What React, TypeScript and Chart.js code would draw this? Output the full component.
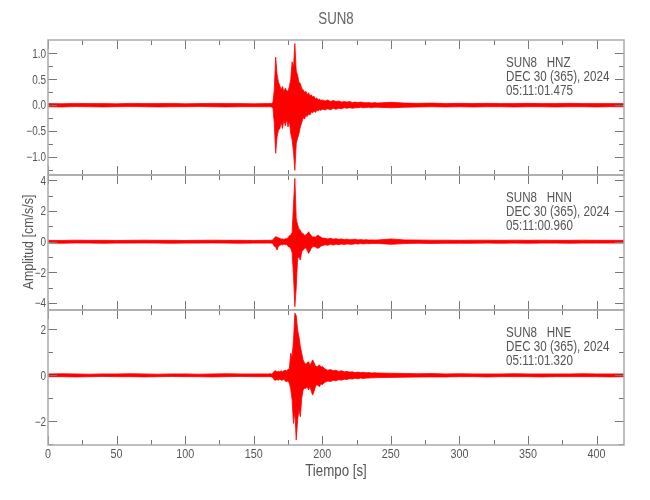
import React, { useEffect, useRef } from "react";
import { Chart, registerables } from "chart.js";

Chart.register(...registerables);

// ---- data ----
const times = [
  0, 10, 20, 30, 40, 50, 60, 70, 80, 90, 100, 110, 120, 130, 140, 150, 160,
  161, 162, 163, 164, 165, 166, 167, 168, 169, 170,
  171, 172, 173, 174, 175, 176, 177, 178, 179, 180,
  181, 182, 183, 184, 185, 186, 187, 188, 189, 190,
  191, 192, 193, 194, 195, 196, 197, 198, 199, 200,
  202, 204, 206, 208, 210, 212, 214, 216, 218, 220,
  222, 224, 226, 228, 230, 232, 234, 236, 238, 240,
  250, 260, 270, 280, 290, 300, 310, 320, 330, 340, 350, 360, 370, 380, 390, 400, 410, 420,
];

const hnzHigh = [
  0.03, 0.028, 0.034, 0.03, 0.03, 0.027, 0.034, 0.03, 0.03, 0.034, 0.027, 0.03, 0.034, 0.03, 0.03, 0.027, 0.03,
  0.03, 0.035, 0.03, 0.05, 0.3, 0.93, 0.6, 0.45, 0.38, 0.3,
  0.36, 0.26, 0.33, 0.28, 0.27, 0.36, 0.5, 0.84, 0.72, 1.19,
  0.66, 0.58, 0.44, 0.42, 0.32, 0.3, 0.25, 0.27, 0.2, 0.24,
  0.18, 0.2, 0.16, 0.17, 0.12, 0.14, 0.1, 0.12, 0.09, 0.1,
  0.08, 0.1, 0.07, 0.09, 0.07, 0.08, 0.06, 0.07, 0.06, 0.07,
  0.05, 0.06, 0.05, 0.06, 0.05, 0.045, 0.05, 0.04, 0.05, 0.04,
  0.055, 0.04, 0.035, 0.04, 0.03, 0.035, 0.03, 0.035, 0.03, 0.03, 0.035, 0.03, 0.03, 0.035, 0.03, 0.03, 0.03, 0.03,
];
const hnzLow = [
  -0.03, -0.034, -0.027, -0.03, -0.034, -0.03, -0.027, -0.03, -0.034, -0.03, -0.03, -0.027, -0.03, -0.034, -0.03, -0.03, -0.03,
  -0.03, -0.03, -0.035, -0.05, -0.35, -0.93, -0.62, -0.48, -0.46, -0.33,
  -0.45, -0.28, -0.4, -0.27, -0.42, -0.3, -0.55, -0.67, -0.9, -1.26,
  -0.74, -0.64, -0.55, -0.42, -0.34, -0.24, -0.27, -0.2, -0.22, -0.17,
  -0.19, -0.13, -0.15, -0.11, -0.14, -0.1, -0.11, -0.09, -0.1, -0.08,
  -0.09, -0.07, -0.09, -0.06, -0.08, -0.06, -0.07, -0.05, -0.06, -0.05,
  -0.06, -0.05, -0.05, -0.04, -0.05, -0.045, -0.04, -0.05, -0.04, -0.04,
  -0.05, -0.04, -0.035, -0.03, -0.035, -0.03, -0.035, -0.03, -0.03, -0.035, -0.03, -0.03, -0.035, -0.03, -0.03, -0.035, -0.03, -0.03,
];

const hnnHigh = [
  0.09, 0.08, 0.1, 0.09, 0.09, 0.08, 0.09, 0.1, 0.09, 0.09, 0.08, 0.09, 0.1, 0.09, 0.09, 0.08, 0.09,
  0.09, 0.1, 0.09, 0.12, 0.25, 0.33, 0.3, 0.26, 0.22, 0.17,
  0.2, 0.15, 0.19, 0.2, 0.25, 0.4, 0.43, 0.6, 2.4, 4.13,
  1.5, 1.1, 0.85, 0.75, 0.55, 0.54, 0.4, 0.45, 0.5, 0.65,
  0.5, 0.4, 0.3, 0.32, 0.3, 0.38, 0.43, 0.36, 0.3, 0.24,
  0.22, 0.18, 0.22, 0.17, 0.2, 0.16, 0.18, 0.14, 0.17, 0.13,
  0.15, 0.16, 0.12, 0.14, 0.12, 0.13, 0.11, 0.12, 0.11, 0.11,
  0.18, 0.12, 0.11, 0.1, 0.1, 0.09, 0.1, 0.1, 0.09, 0.1, 0.09, 0.1, 0.09, 0.09, 0.1, 0.09, 0.09, 0.09,
];
const hnnLow = [
  -0.09, -0.1, -0.08, -0.09, -0.1, -0.09, -0.09, -0.08, -0.09, -0.1, -0.09, -0.09, -0.08, -0.09, -0.1, -0.09, -0.09,
  -0.09, -0.09, -0.1, -0.12, -0.3, -0.33, -0.54, -0.3, -0.25, -0.18,
  -0.22, -0.15, -0.2, -0.18, -0.3, -0.35, -0.43, -0.7, -2.17, -4.23,
  -3.0, -1.1, -0.98, -1.2, -0.65, -0.54, -0.45, -0.4, -0.55, -0.76,
  -0.6, -0.42, -0.33, -0.3, -0.35, -0.4, -0.43, -0.38, -0.28, -0.26,
  -0.2, -0.23, -0.17, -0.21, -0.16, -0.19, -0.15, -0.18, -0.14, -0.16,
  -0.17, -0.13, -0.15, -0.12, -0.14, -0.12, -0.13, -0.11, -0.12, -0.11,
  -0.17, -0.12, -0.1, -0.11, -0.1, -0.1, -0.1, -0.09, -0.1, -0.09, -0.1, -0.09, -0.09, -0.1, -0.09, -0.09, -0.09, -0.09,
];

const hneHigh = [
  0.06, 0.07, 0.06, 0.05, 0.06, 0.06, 0.07, 0.06, 0.05, 0.06, 0.06, 0.05, 0.06, 0.07, 0.06, 0.06, 0.06,
  0.06, 0.07, 0.06, 0.1, 0.18, 0.2, 0.14, 0.18, 0.15, 0.2,
  0.16, 0.2, 0.22, 0.2, 0.25, 0.3, 0.96, 0.8, 1.5, 2.7,
  2.6, 1.97, 1.68, 1.25, 0.96, 0.67, 0.55, 0.48, 0.55, 0.59,
  0.45, 0.55, 0.67, 0.55, 0.42, 0.36, 0.42, 0.45, 0.36, 0.38,
  0.28, 0.22, 0.25, 0.2, 0.22, 0.17, 0.2, 0.15, 0.17, 0.14,
  0.15, 0.12, 0.14, 0.12, 0.13, 0.11, 0.12, 0.1, 0.11, 0.1,
  0.09, 0.08, 0.07, 0.075, 0.06, 0.07, 0.06, 0.06, 0.06, 0.07, 0.06, 0.06, 0.06, 0.06, 0.07, 0.06, 0.06, 0.06,
];
const hneLow = [
  -0.06, -0.06, -0.07, -0.06, -0.05, -0.06, -0.06, -0.07, -0.06, -0.05, -0.06, -0.06, -0.07, -0.06, -0.05, -0.06, -0.06,
  -0.06, -0.06, -0.07, -0.1, -0.2, -0.22, -0.18, -0.22, -0.16, -0.2,
  -0.22, -0.16, -0.25, -0.28, -0.24, -0.35, -0.6, -1.07, -2.09, -1.6,
  -2.81, -1.94, -1.51, -1.8, -1.0, -0.64, -0.55, -0.57, -0.5, -0.64,
  -0.5, -0.7, -0.86, -0.7, -0.5, -0.4, -0.45, -0.49, -0.38, -0.4,
  -0.3, -0.25, -0.27, -0.22, -0.24, -0.19, -0.21, -0.17, -0.18, -0.15,
  -0.16, -0.13, -0.15, -0.12, -0.14, -0.12, -0.12, -0.11, -0.11, -0.1,
  -0.09, -0.08, -0.075, -0.07, -0.07, -0.06, -0.06, -0.07, -0.06, -0.06, -0.06, -0.07, -0.06, -0.06, -0.06, -0.06, -0.07, -0.06,
];

const xMajorTicks = [0, 50, 100, 150, 200, 250, 300, 350, 400];
const xMinorTicks = [25, 75, 125, 175, 225, 275, 325, 375];
const xTickLabels = ["0", "50", "100", "150", "200", "250", "300", "350", "400"];

const hnzMajorTicks = [-1, -0.5, 0, 0.5, 1];
const hnzMinorTicks = [-1.25, -0.75, -0.25, 0.25, 0.75];
const hnzTickLabels = ["\u22121.0", "\u22120.5", "0.0", "0.5", "1.0"];
const hnnMajorTicks = [-4, -2, 0, 2, 4];
const hnnMinorTicks = [-3, -1, 1, 3];
const hnnTickLabels = ["\u22124", "\u22122", "0", "2", "4"];
const hneMajorTicks = [-2, 0, 2];
const hneMinorTicks = [-3, -1, 1];
const hneTickLabels = ["\u22122", "0", "2"];

const hnzHeader = ["SUN8   HNZ", "DEC 30 (365), 2024", "05:11:01.475"];
const hnnHeader = ["SUN8   HNN", "DEC 30 (365), 2024", "05:11:00.960"];
const hneHeader = ["SUN8   HNE", "DEC 30 (365), 2024", "05:11:01.320"];

const chartTitle = "SUN8";
const xTitle = "Tiempo [s]";
const yTitle = "Amplitud [cm/s/s]";

// ---- layout / style ----
const FONT = '"Liberation Sans", Arial, sans-serif';
const NARROW = 0.83;
const TEXT = "#555";
const TRACE = "#ff0000";

type Panel = {
  high: number[];
  low: number[];
  yMin: number;
  yMax: number;
  major: number[];
  minor: number[];
  labels: string[];
  header: string[];
  top: number;
  bottom: number;
};

const panels: Panel[] = [
  { high: hnzHigh, low: hnzLow, yMin: -1.35, yMax: 1.26, major: hnzMajorTicks, minor: hnzMinorTicks, labels: hnzTickLabels, header: hnzHeader, top: 40, bottom: 175 },
  { high: hnnHigh, low: hnnLow, yMin: -4.45, yMax: 4.35, major: hnnMajorTicks, minor: hnnMinorTicks, labels: hnnTickLabels, header: hnnHeader, top: 175, bottom: 310 },
  { high: hneHigh, low: hneLow, yMin: -3.03, yMax: 2.84, major: hneMajorTicks, minor: hneMinorTicks, labels: hneTickLabels, header: hneHeader, top: 310, bottom: 445 },
];

function narrowText(
  ctx: CanvasRenderingContext2D,
  text: string,
  x: number,
  y: number,
  size: number,
  align: CanvasTextAlign,
  rotate = 0
) {
  ctx.save();
  ctx.translate(x, y);
  if (rotate) ctx.rotate(rotate);
  ctx.scale(NARROW, 1);
  ctx.font = size + "px " + FONT;
  ctx.textAlign = align;
  ctx.textBaseline = "alphabetic";
  ctx.fillText(text, 0, 0);
  ctx.restore();
}

function makePlugin(p: Panel, index: number) {
  return {
    id: "seisFrame" + index,
    afterDraw(chart: any) {
      const ctx = chart.ctx as CanvasRenderingContext2D;
      const a = chart.chartArea;
      const xs = chart.scales.x;
      const ys = chart.scales.y;
      ctx.save();

      // tick marks
      ctx.strokeStyle = "#777";
      ctx.lineWidth = 1;
      ctx.beginPath();
      const xt = (v: number, len: number) => {
        const px = Math.round(xs.getPixelForValue(v)) + 0.5;
        ctx.moveTo(px, a.top);
        ctx.lineTo(px, a.top + len);
        ctx.moveTo(px, a.bottom);
        ctx.lineTo(px, a.bottom - len);
      };
      const yt = (v: number, len: number) => {
        const py = Math.round(ys.getPixelForValue(v)) + 0.5;
        ctx.moveTo(a.left, py);
        ctx.lineTo(a.left + len, py);
        ctx.moveTo(a.right, py);
        ctx.lineTo(a.right - len, py);
      };
      xMajorTicks.forEach((v) => xt(v, 9));
      xMinorTicks.forEach((v) => xt(v, 5));
      p.major.forEach((v) => yt(v, 9));
      p.minor.forEach((v) => { if (v >= p.yMin && v <= p.yMax) yt(v, 5); });
      ctx.stroke();

      // frame
      ctx.strokeStyle = "#aaaaaa";
      ctx.lineWidth = 1.5;
      ctx.strokeRect(a.left, a.top, a.right - a.left, a.bottom - a.top);

      ctx.fillStyle = TEXT;
      // y tick labels
      p.major.forEach((v, i) => {
        narrowText(ctx, p.labels[i], a.left - 2, ys.getPixelForValue(v) + 4.3, 12, "right");
      });

      // header text
      p.header.forEach((line, i) => {
        narrowText(ctx, line, a.left + 458, a.top + 26.5 + i * 14.2, 14, "left");
      });

      if (index === 0) {
        ctx.fillStyle = "#666";
        narrowText(ctx, chartTitle, (a.left + a.right) / 2, 24, 16, "center");
        ctx.fillStyle = TEXT;
      }
      if (index === 1) {
        narrowText(ctx, yTitle, 33, 242, 15, "center", -Math.PI / 2);
      }
      if (index === 2) {
        xMajorTicks.forEach((v, i) => {
          narrowText(ctx, xTickLabels[i], xs.getPixelForValue(v), 458, 13, "center");
        });
        narrowText(ctx, xTitle, (a.left + a.right) / 2, 476, 16, "center");
      }
      ctx.restore();
    },
  };
}

function PanelChart({ panel, index }: { panel: Panel; index: number }) {
  const ref = useRef<HTMLCanvasElement | null>(null);
  useEffect(() => {
    if (!ref.current) return;
    const hi = times.map((t, i) => ({ x: t, y: panel.high[i] }));
    const lo = times.map((t, i) => ({ x: t, y: panel.low[i] }));
    const chart = new Chart(ref.current, {
      type: "line",
      data: {
        datasets: [
          { data: hi, borderColor: TRACE, backgroundColor: TRACE, borderWidth: 0.8, pointRadius: 0, fill: "+1", tension: 0 },
          { data: lo, borderColor: TRACE, backgroundColor: TRACE, borderWidth: 0.8, pointRadius: 0, fill: false, tension: 0 },
        ],
      },
      options: {
        responsive: false,
        animation: false,
        events: [],
        layout: { padding: { left: 48, right: 26, top: panel.top, bottom: 500 - panel.bottom } },
        plugins: { legend: { display: false }, tooltip: { enabled: false }, title: { display: false } },
        scales: {
          x: { type: "linear", min: 0, max: 420, display: false },
          y: { type: "linear", min: panel.yMin, max: panel.yMax, display: false },
        },
      },
      plugins: [makePlugin(panel, index)],
    } as any);
    return () => chart.destroy();
  }, [panel, index]);
  return (
    <canvas
      ref={ref}
      width={650}
      height={500}
      style={{ position: "absolute", left: 0, top: 0, width: 650, height: 500 }}
    />
  );
}

export default function App() {
  return (
    <div style={{ position: "absolute", left: 0, top: 0, width: 650, height: 500, background: "#fff" }}>
      {panels.map((p, i) => (
        <PanelChart key={i} panel={p} index={i} />
      ))}
    </div>
  );
}
